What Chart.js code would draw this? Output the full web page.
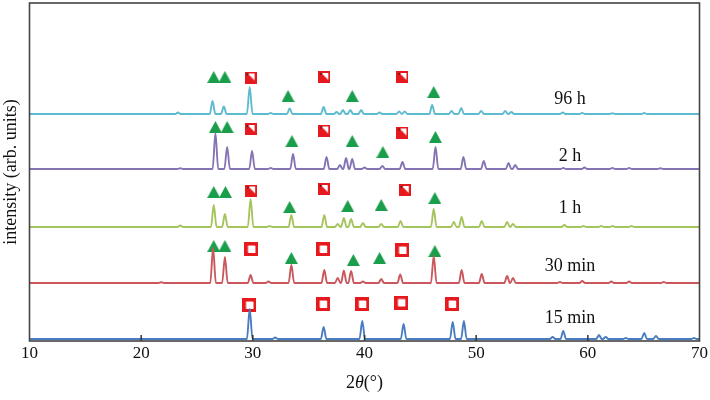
<!DOCTYPE html>
<html>
<head>
<meta charset="utf-8">
<script src="https://cdn.jsdelivr.net/npm/chart.js@4.4.1/dist/chart.umd.min.js"></script>
<style>
  body { margin: 0; background: #fff; }
  #xrd { display: block; }
</style>
</head>
<body>
<canvas id="xrd" width="710" height="400"></canvas>
<script>
// tick labels on the 2θ axis
const xTicks = [10, 20, 30, 40, 50, 60, 70];

// series names and their vertical offsets (arb. units)
const seriesNames = ['96 h', '2 h', '1 h', '30 min', '15 min'];
const seriesOffsets = [227, 172, 114, 58, 2];

// peaks: [2θ, height]
const peaks96h = [[23.3, 1.5], [26.39, 13], [27.4, 7.5], [29.72, 27], [31.6, 1], [33.3, 5.5], [36.34, 7],
  [37.5, 2], [38.07, 4], [38.73, 4], [39.7, 4], [41.35, 1.5], [43.1, 2.5], [43.6, 2.5], [46.06, 9],
  [47.8, 3], [48.66, 6], [50.45, 3], [52.6, 3], [53.15, 2], [57.75, 1.5], [59.5, 1], [62.2, 0.8], [65.05, 1]];
const peaks2h = [[23.5, 0.8], [26.65, 36], [27.7, 22], [29.93, 18], [31.6, 1], [33.6, 15], [36.6, 12],
  [37.8, 4], [38.35, 11], [38.9, 10], [40.0, 1.5], [41.6, 3], [43.4, 7], [46.36, 22], [48.86, 12],
  [50.68, 8], [52.9, 6], [53.5, 4], [57.8, 1], [59.7, 1.5], [62.2, 1], [63.7, 1], [66.5, 0.8]];
const peaks1h = [[23.5, 1.5], [26.5, 22], [27.5, 13], [29.8, 28], [31.5, 1], [33.45, 12], [36.4, 12],
  [37.6, 3], [38.15, 9], [38.8, 8], [39.86, 4], [41.5, 3], [43.23, 6], [46.2, 18], [48.0, 5], [48.7, 10],
  [50.5, 6], [52.77, 5], [53.3, 3], [57.9, 2], [59.6, 1], [61.2, 1], [62.2, 1], [63.9, 1]];
const peaks30min = [[21.8, 0.8], [26.44, 35], [27.5, 26], [29.8, 8], [31.4, 1.5], [33.45, 18], [36.4, 13],
  [37.6, 5], [38.15, 12.5], [38.8, 12], [39.86, 1.5], [41.5, 4], [43.2, 8.5], [46.2, 27], [48.7, 13],
  [50.5, 9], [52.77, 7], [53.3, 5], [57.5, 1], [59.5, 2], [62.1, 1.5], [63.7, 1.5], [66.8, 1]];
const peaks15min = [[29.72, 30], [32.0, 1.5], [36.34, 12], [39.8, 18], [43.5, 15], [47.9, 17], [48.9, 18],
  [56.85, 2], [57.8, 8], [61.0, 4], [61.6, 2], [63.4, 1], [65.05, 6], [66.1, 3], [69.5, 1]];

// phase markers: [2θ, level]
const triangleMarks = [
  [26.5, 264], [27.5, 264], [33.15, 245], [38.9, 245], [46.2, 249],
  [26.65, 214], [27.7, 214], [33.5, 200], [38.9, 200], [41.65, 189], [46.35, 204],
  [26.5, 149], [27.55, 149], [33.3, 134], [38.5, 135], [41.5, 136], [46.3, 143],
  [26.5, 95], [27.5, 95], [33.45, 83], [39.0, 81], [41.35, 83], [46.3, 90]];
const halfSquareMarks = [
  [29.8, 263.5], [36.4, 264], [43.4, 264],
  [29.8, 212], [36.4, 210.5], [43.4, 208.5],
  [29.85, 150.5], [36.35, 152], [43.6, 151]];
const openSquareMarks = [
  [29.87, 92], [36.3, 92], [43.4, 91],
  [29.7, 36], [36.3, 37], [39.8, 37], [43.3, 38.5], [47.85, 37]];

const allPeaks = [peaks96h, peaks2h, peaks1h, peaks30min, peaks15min];
const colors = ['#5cbbcf', '#8574b4', '#a6c45c', '#c9575c', '#4a7cc2'];
const halfWidth = 0.25;
const serif = "'Liberation Serif', 'Times New Roman', serif";

function tracePoints(peaks, off) {
  const pts = [{ x: 10, y: off }];
  peaks.forEach(([p, h]) => {
    pts.push({ x: p - halfWidth, y: off });
    pts.push({ x: p, y: off + h });
    pts.push({ x: p + halfWidth, y: off });
  });
  pts.push({ x: 70, y: off });
  return pts;
}

function makeIcon(w, h, draw) {
  const c = document.createElement('canvas');
  c.width = w; c.height = h;
  draw(c.getContext('2d'));
  return c;
}
const triIcon = makeIcon(13, 12, g => {
  g.fillStyle = '#1b9e4b';
  g.beginPath(); g.moveTo(6.5, 0); g.lineTo(13, 12); g.lineTo(0, 12); g.closePath(); g.fill();
});
const halfIcon = makeIcon(12, 12, g => {
  g.fillStyle = '#e5191e'; g.fillRect(0, 0, 12, 12);
  g.fillStyle = '#ffffff';
  g.beginPath(); g.moveTo(3, 2); g.lineTo(10, 2); g.lineTo(10, 9); g.closePath(); g.fill();
  g.fillStyle = '#5a1010';
  g.beginPath(); g.moveTo(2, 2); g.lineTo(4.5, 2); g.lineTo(2, 4.5); g.closePath(); g.fill();
});
const openIcon = makeIcon(14, 14, g => {
  g.fillStyle = '#e5191e'; g.fillRect(0, 0, 14, 14);
  g.clearRect(3.5, 3.5, 7, 7);
  g.fillStyle = 'rgba(255,255,255,0.9)'; g.fillRect(3.5, 3.5, 7, 7);
});

const datasets = allPeaks.map((pk, i) => ({
  type: 'line',
  label: seriesNames[i],
  data: tracePoints(pk, seriesOffsets[i]),
  borderColor: colors[i],
  borderWidth: 1.9,
  pointRadius: 0,
  cubicInterpolationMode: 'monotone',
  order: 0
}));
[[triangleMarks, triIcon], [halfSquareMarks, halfIcon], [openSquareMarks, openIcon]].forEach(([marks, icon]) => {
  datasets.push({
    type: 'scatter',
    data: marks.map(([x, y]) => ({ x, y })),
    pointStyle: icon,
    pointRadius: 7,
    showLine: false,
    order: 1
  });
});

const decor = {
  id: 'decor',
  afterDatasetsDraw(chart) {
    const { ctx, chartArea: a, scales } = chart;
    ctx.save();
    // inner ticks
    ctx.strokeStyle = '#333';
    ctx.lineWidth = 1.5;
    xTicks.slice(1, -1).forEach(v => {
      const px = scales.x.getPixelForValue(v);
      ctx.beginPath(); ctx.moveTo(px, a.bottom); ctx.lineTo(px, a.bottom - 6); ctx.stroke();
    });
    // frame
    ctx.strokeStyle = '#444';
    ctx.lineWidth = 1.6;
    ctx.strokeRect(a.left, a.top, a.right - a.left, a.bottom - a.top);
    // series labels
    const labelLevels = [242, 185, 133, 75, 23];
    ctx.fillStyle = '#111';
    ctx.font = '18px ' + serif;
    ctx.textAlign = 'center';
    ctx.textBaseline = 'middle';
    seriesNames.forEach((n, i) => {
      ctx.fillText(n, scales.x.getPixelForValue(58.4), scales.y.getPixelForValue(labelLevels[i]));
    });
    // x axis title 2θ(°)
    const parts = [['2', '18px ' + serif], ['θ', 'italic 18px ' + serif], ['(°)', '18px ' + serif]];
    let total = 0;
    parts.forEach(([t, f]) => { ctx.font = f; total += ctx.measureText(t).width; });
    let x = (a.left + a.right) / 2 - total / 2;
    ctx.textAlign = 'left';
    parts.forEach(([t, f]) => {
      ctx.font = f;
      ctx.fillText(t, x, 383);
      x += ctx.measureText(t).width;
    });
    ctx.restore();
  }
};

new Chart(document.getElementById('xrd'), {
  type: 'line',
  data: { datasets },
  options: {
    responsive: false,
    animation: false,
    layout: { autoPadding: false, padding: { top: 3, right: 9.5, left: 0, bottom: 0 } },
    plugins: { legend: { display: false }, tooltip: { enabled: false } },
    scales: {
      x: {
        type: 'linear',
        min: 10, max: 70,
        afterBuildTicks: s => { s.ticks = xTicks.map(v => ({ value: v })); },
        afterFit: s => { s.height = 59; },
        grid: { display: false, drawTicks: false },
        border: { display: false },
        ticks: { color: '#111', font: { family: serif, size: 17 }, padding: 2, maxRotation: 0 }
      },
      y: {
        min: 0, max: 338,
        afterFit: s => { s.width = 29.5; },
        grid: { display: false, drawTicks: false },
        border: { display: false },
        ticks: { display: false },
        title: {
          display: true,
          text: 'intensity (arb. units)',
          color: '#111',
          font: { family: serif, size: 18 },
          padding: { top: 0, bottom: 0 }
        }
      }
    }
  },
  plugins: [decor]
});
</script>
</body>
</html>
